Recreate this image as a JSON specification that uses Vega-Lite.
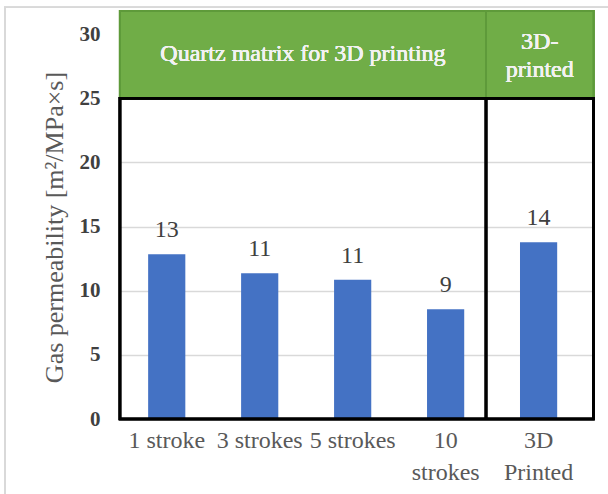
{
  "$schema": "https://vega.github.io/schema/vega-lite/v6.json",
  "width": 473,
  "height": 408,
  "autosize": "none",
  "padding": {"left": 120, "top": 11, "right": 15, "bottom": 75},
  "background": "white",
  "config": {"view": {"stroke": null}, "font": "Liberation Serif", "text": {"font": "Liberation Serif"}},
  "data": {
    "values": [
      {"sample": "1 stroke", "permeability": 12.84},
      {"sample": "3 strokes", "permeability": 11.36},
      {"sample": "5 strokes", "permeability": 10.86},
      {"sample": "10 strokes", "permeability": 8.55},
      {"sample": "3D Printed", "permeability": 13.77}
    ]
  },
  "layer": [
    {
      "mark": {"type": "bar", "color": "#4472C4"},
      "encoding": {
        "x": {
          "field": "sample",
          "type": "nominal",
          "sort": null,
          "scale": {
            "domain": ["1 stroke", "3 strokes", "5 strokes", "10 strokes", "3D Printed"],
            "paddingInner": 0.6,
            "paddingOuter": 0.344,
            "align": 0.44
          },
          "axis": {
            "title": null,
            "labelAngle": 0,
            "labelAlign": "center",
            "labelExpr": "datum.value == '10 strokes' ? ['10', 'strokes'] : datum.value == '3D Printed' ? ['3D', 'Printed'] : datum.value",
            "labelFont": "Liberation Serif",
            "labelFontSize": 24,
            "labelColor": "#595959",
            "labelLineHeight": 32,
            "labelPadding": 9,
            "ticks": false,
            "domain": false
          }
        },
        "y": {
          "field": "permeability",
          "type": "quantitative",
          "scale": {"domain": [0, 31.8], "nice": false},
          "axis": {
            "values": [0, 5, 10, 15, 20, 25, 30],
            "labelFont": "Liberation Serif",
            "labelFontWeight": "bold",
            "labelFontSize": 21,
            "labelColor": "#404040",
            "labelPadding": 20,
            "ticks": false,
            "domain": false,
            "grid": true,
            "gridColor": "#D9D9D9",
            "gridWidth": 1.5,
            "title": "Gas permeability [m²/MPa×s]",
            "titleFont": "Liberation Serif",
            "titleFontSize": 26,
            "titleFontWeight": "normal",
            "titleColor": "#595959",
            "titleX": -66,
            "titleY": 216,
            "titleAngle": -90,
            "titleAlign": "center",
            "titleBaseline": "middle"
          }
        }
      }
    },
    {
      "mark": {"type": "rect", "fillOpacity": 0, "stroke": "#D9D9D9", "strokeWidth": 1.5},
      "encoding": {
        "x": {"datum": "1 stroke", "bandPosition": -3.85},
        "x2": {"datum": "3D Printed", "bandPosition": 3},
        "y": {"datum": 32.1},
        "y2": {"datum": -7}
      }
    },
    {
      "mark": {"type": "rect", "fill": "#70AD47", "stroke": "#5E9A3A", "strokeWidth": 2},
      "encoding": {
        "x": {"datum": "1 stroke", "bandPosition": -0.758},
        "x2": {"datum": "3D Printed", "bandPosition": 1.976},
        "y": {"datum": 25},
        "y2": {"datum": 31.8}
      }
    },
    {
      "mark": {"type": "rule", "color": "#5E9A3A", "strokeWidth": 2},
      "encoding": {
        "x": {"datum": "3D Printed", "bandPosition": -0.914},
        "y": {"datum": 25},
        "y2": {"datum": 31.8}
      }
    },
    {
      "mark": {"type": "rect", "fillOpacity": 0, "stroke": "black", "strokeWidth": 2.5},
      "encoding": {
        "x": {"datum": "1 stroke", "bandPosition": -0.758},
        "x2": {"datum": "3D Printed", "bandPosition": 1.976},
        "y": {"datum": 0},
        "y2": {"datum": 25}
      }
    },
    {
      "mark": {"type": "rule", "color": "black", "strokeWidth": 2.5},
      "encoding": {
        "x": {"datum": "3D Printed", "bandPosition": -0.914},
        "y": {"datum": 0},
        "y2": {"datum": 25}
      }
    },
    {
      "mark": {"type": "text", "font": "Liberation Serif", "fontSize": 24, "color": "#404040", "baseline": "alphabetic", "dy": -17},
      "encoding": {
        "x": {"field": "sample", "type": "nominal", "sort": null},
        "y": {"field": "permeability", "type": "quantitative"},
        "text": {"field": "permeability", "type": "quantitative", "format": ".0f"}
      }
    },
    {
      "mark": {"type": "text", "font": "Liberation Serif", "fontSize": 24, "color": "#F2F2F2", "baseline": "middle", "text": "Quartz matrix for 3D printing"},
      "encoding": {
        "x": {"datum": "3 strokes", "bandPosition": 1.664},
        "y": {"datum": 28.45}
      }
    },
    {
      "mark": {"type": "text", "font": "Liberation Serif", "fontSize": 24, "color": "#F2F2F2", "baseline": "middle", "lineHeight": 28, "text": ["3D-", "printed"]},
      "encoding": {
        "x": {"datum": "3D Printed", "bandPosition": 0.53},
        "y": {"datum": 29.38}
      }
    }
  ]
}
